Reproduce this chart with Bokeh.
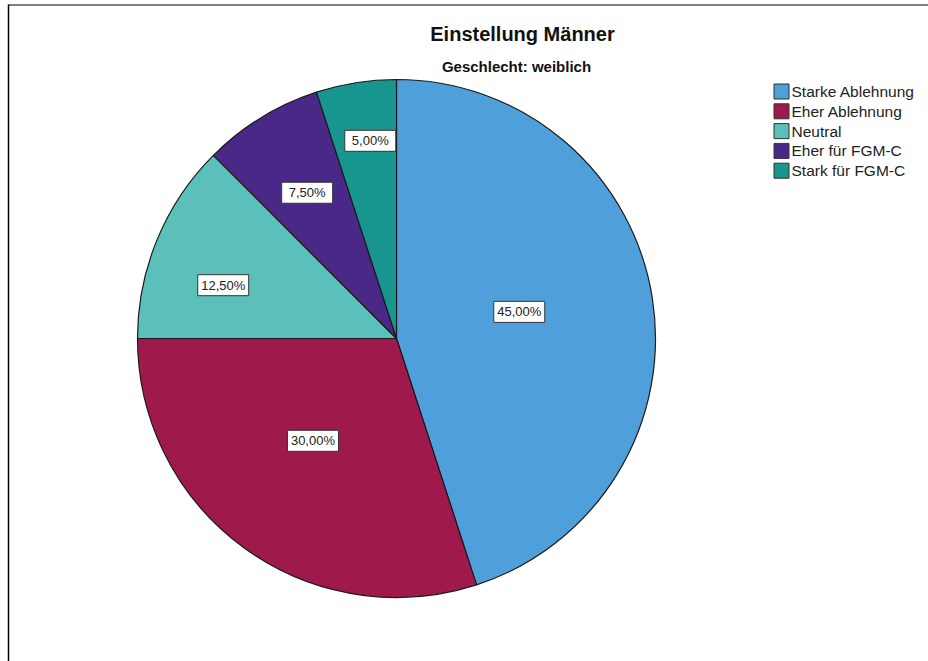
import math
from bokeh.plotting import figure
from bokeh.models import Range1d, ColumnDataSource
from bokeh.core.properties import value
from bokeh.embed import file_html
from bokeh.resources import INLINE

# ---- data ----
categories = ["Starke Ablehnung", "Eher Ablehnung", "Neutral", "Eher für FGM-C", "Stark für FGM-C"]
percent = [45.0, 30.0, 12.5, 7.5, 5.0]
colors = ["#4FA0DA", "#A0194C", "#5BC0BA", "#4A2888", "#19958F"]
title_text = "Einstellung Männer"
subtitle_text = "Geschlecht: weiblich"

# ---- layout ----
W, H = 928, 661
cx, cy, R = 396, H - 338, 259
label_angle_frac = [0.48, 0.53, 0.38, 0.50, 0.58]
label_radius_frac = [0.485, 0.51, 0.70, 0.66, 0.77]
FONT = "Liberation Sans"

p = figure(width=W, height=H, output_backend="svg", toolbar_location=None,
           x_range=Range1d(0, W), y_range=Range1d(0, H), min_border=0)
p.axis.visible = False
p.grid.visible = False
p.outline_line_color = None
p.background_fill_color = "white"
p.border_fill_color = "white"

total = sum(percent)
starts, ends, lx, ly, labels = [], [], [], [], []
cum = 0.0
for v, af, rf in zip(percent, label_angle_frac, label_radius_frac):
    a0 = math.pi / 2 - 2 * math.pi * cum / total
    cum += v
    a1 = math.pi / 2 - 2 * math.pi * cum / total
    starts.append(a0)
    ends.append(a1)
    mid = a0 + af * (a1 - a0)
    lx.append(cx + rf * R * math.cos(mid))
    ly.append(cy + rf * R * math.sin(mid))
    labels.append(f"{v:.2f}%".replace(".", ","))

src = ColumnDataSource(dict(start=starts, end=ends, color=colors, cat=categories))
p.wedge(x=cx, y=cy, radius=R, start_angle="start", end_angle="end", direction="clock",
        fill_color="color", line_color="#1a1a1a", line_width=1.2, source=src)

lsrc = ColumnDataSource(dict(x=lx, y=ly, t=labels))
p.rect(x="x", y="y", width=51, height=21, width_units="screen", height_units="screen",
       fill_color="white", line_color="#333333", line_width=1, source=lsrc)
p.text(x="x", y="y", text="t", text_align="center", text_baseline="middle",
       text_font=value(FONT), text_font_size="13px", text_color="#222222", source=lsrc)

# title
p.text(x=[522], y=[H - 33], text=[title_text], text_align="center", text_baseline="middle",
       text_font=value(FONT), text_font_style="bold", text_font_size="20px", text_color="#111111")
p.text(x=[516], y=[H - 66], text=[subtitle_text], text_align="center", text_baseline="middle",
       text_font=value(FONT), text_font_style="bold", text_font_size="15px", text_color="#111111")

# legend
leg_y = [H - (91 + 19.8 * i) for i in range(len(categories))]
p.rect(x=[781] * len(categories), y=leg_y, width=15, height=15, width_units="screen",
       height_units="screen", fill_color=colors, line_color="#333333", line_width=1)
p.text(x=[791] * len(categories), y=leg_y, text=categories, text_align="left",
       text_baseline="middle", text_font=value(FONT), text_font_size="15.5px", text_color="#222222")

# frame lines
p.segment(x0=[8], y0=[H - 4.5], x1=[W], y1=[H - 4.5], line_color="#808080", line_width=2)
p.segment(x0=[8], y0=[H - 4], x1=[8], y1=[0], line_color="#000000", line_width=1.5)

open("out.html", "w").write(file_html(p, INLINE))
